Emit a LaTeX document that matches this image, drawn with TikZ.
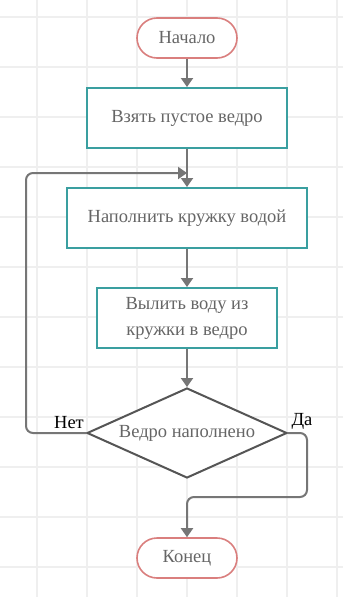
\documentclass[tikz,border=0pt]{standalone}
\usepackage{fontspec}
\setmainfont{Liberation Serif}
\usetikzlibrary{shapes.geometric,arrows.meta}
\definecolor{gridc}{HTML}{EFEFEF}
\definecolor{teal2}{HTML}{3A9FA0}
\definecolor{term}{HTML}{DA7F7E}
\definecolor{txt}{HTML}{666666}
\definecolor{conn}{HTML}{767676}
\definecolor{dia}{HTML}{555555}
\tikzset{
  termbox/.style={draw=term, line width=1.6pt, fill=white, rounded corners=20pt, minimum width=100pt, minimum height=40pt, inner sep=0pt, text=txt, font=\fontsize{18.5}{22}\selectfont},
  procbox/.style={draw=teal2, line width=2pt, fill=white, minimum height=60pt, inner sep=0pt, text=txt, font=\fontsize{18.5}{26}\selectfont, align=center},
  decbox/.style={draw=dia, line width=2pt, fill=white, diamond, aspect=2.22, minimum width=200pt, minimum height=90pt, inner sep=0pt, text=txt, font=\fontsize{18.5}{22}\selectfont},
  conn/.style={draw=conn, line width=2pt, -{Triangle[length=9pt,width=12pt]}, rounded corners=7pt},
  lbl/.style={font=\fontsize{18.5}{22}\selectfont, text=black, inner sep=0pt}
}
\begin{document}
\begin{tikzpicture}[x=1pt,y=-1pt]
\useasboundingbox (0,0) rectangle (343,597);
\fill[white] (0,0) rectangle (343,597);
\foreach \x in {37,87,...,337} \draw[gridc, line width=1.3pt] (\x,0) -- (\x,597);
\foreach \y in {17,67,...,597} \draw[gridc, line width=1.3pt] (0,\y) -- (343,\y);

\node[termbox] (start) at (187,38) {Начало};
\node[procbox, minimum width=200pt] (b1) at (187,118) {Взять пустое ведро};
\node[procbox, minimum width=240pt] (b2) at (187,218) {Наполнить кружку водой};
\node[procbox, minimum width=180pt] (b3) at (187,318) {Вылить воду из\\кружки в ведро};
\node[decbox] (d) at (187,433) {Ведро наполнено};
\node[termbox] (end) at (187,558) {Конец};

\coordinate (loop) at (187,173);
\coordinate (mid) at (187,497);

\draw[conn] (start) -- (b1);
\draw[conn] (b1) -- (b2);
\draw[conn] (b2) -- (b3);
\draw[conn] (b3) -- (d);
\draw[conn] (d.west) -- (26,433) -- (26,173) -- (loop);
\draw[conn] (d.east) -- (307,433) -- (307,497) -- (187,497) -- (end);

\node[lbl] (no) at (69,423) {Нет};
\node[lbl] (yes) at (302,421) {Да};
\end{tikzpicture}
\end{document}
